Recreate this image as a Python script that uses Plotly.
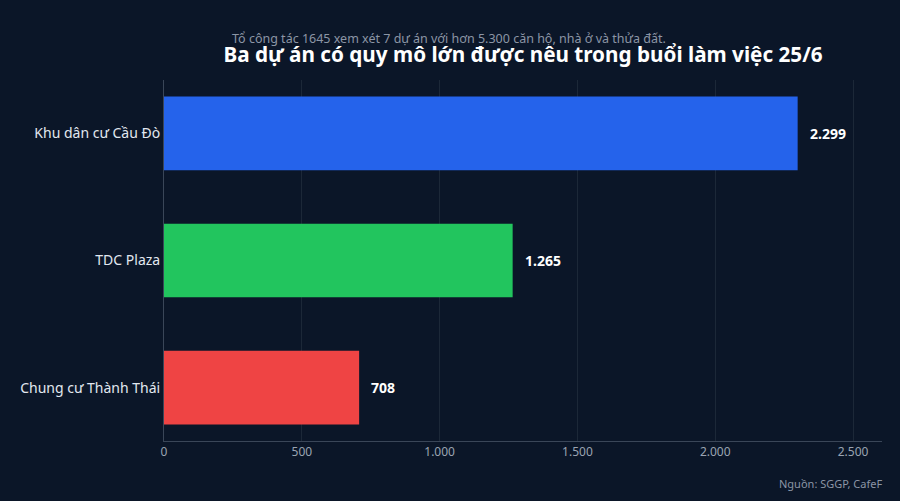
import plotly.graph_objects as go

categories = ["Khu dân cư Cầu Đò", "TDC Plaza", "Chung cư Thành Thái"]
values = [2299, 1265, 708]
colors = ["#2563eb", "#22c55e", "#ef4444"]
x_ticks = [0, 500, 1000, 1500, 2000, 2500]

BG = "#0b1628"
FONT = "Noto Sans"

def fmt(v):
    return f"{v:,}".replace(",", ".")

fig = go.Figure()
fig.add_trace(go.Bar(
    x=values, y=categories, orientation="h",
    marker=dict(color=colors, line=dict(width=0)),
    width=0.58, hoverinfo="skip", showlegend=False,
))

for c, v in zip(categories, values):
    fig.add_annotation(x=v, y=c, text=f"<b>{fmt(v)}</b>", showarrow=False,
                       xanchor="left", yanchor="middle", xshift=10,
                       font=dict(family=FONT, size=14, color="#ffffff"))

fig.add_annotation(text="Tổ công tác 1645 xem xét 7 dự án với hơn 5.300 căn hộ, nhà ở và thửa đất.",
                   xref="paper", yref="paper", x=(449 - 164) / 718, y=1, yshift=42,
                   xanchor="center", yanchor="middle", showarrow=False,
                   font=dict(family=FONT, size=12.5, color="#8b95a5"))
fig.add_annotation(text="Nguồn: SGGP, CafeF", xref="paper", yref="paper", x=1, y=0,
                   xshift=2, yshift=-42, xanchor="right", yanchor="middle", showarrow=False,
                   font=dict(family=FONT, size=11, color="#8b95a5"))

fig.update_layout(
    width=900, height=501,
    paper_bgcolor=BG, plot_bgcolor=BG,
    margin=dict(l=164, r=18, t=80, b=60),
    separators=",.",
    title=dict(text="<b>Ba dự án có quy mô lớn được nêu trong buổi làm việc 25/6</b>",
               x=0.5, xref="paper", xanchor="center", y=1 - 55 / 501, yanchor="middle",
               font=dict(family=FONT, size=20.7, color="#ffffff")),
    xaxis=dict(range=[0, 2605], tickvals=x_ticks, tickformat=",d",
               showgrid=True, gridcolor="#1c2838", gridwidth=1, zeroline=False,
               showline=True, linecolor="#3a4658", linewidth=1,
               ticks="", tickfont=dict(family=FONT, size=12, color="#9aa4b2")),
    yaxis=dict(range=[2.42, -0.42], categoryorder="array", categoryarray=categories,
               showgrid=False, zeroline=False, showline=True, linecolor="#3a4658",
               linewidth=1, ticks="", ticklabelstandoff=0,
               tickfont=dict(family=FONT, size=14, color="#e2e8f0")),
)

fig.write_html("out.html")
